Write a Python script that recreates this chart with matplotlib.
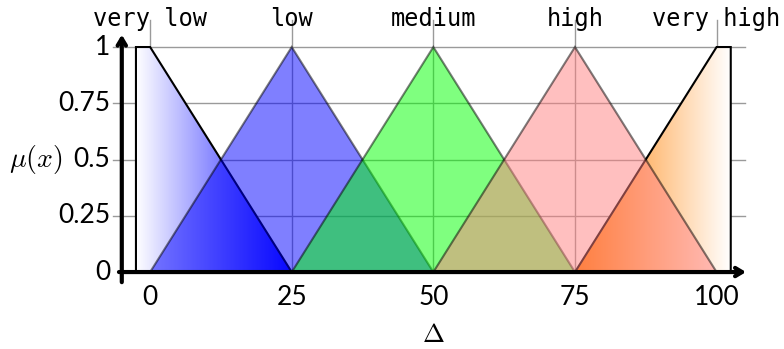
import numpy as np
import matplotlib
matplotlib.use('Agg')
import matplotlib.pyplot as plt
from matplotlib.patches import Polygon
from matplotlib.colors import LinearSegmentedColormap

# fuzzy sets over delta
labels = ['very low', 'low', 'medium', 'high', 'very high']
centers = [0, 25, 50, 75, 100]
tri_colors = ['#0000ff', '#00ff00', '#ff8080']   # low, medium, high
xticks = [0, 25, 50, 75, 100]
yticks = [0, 0.25, 0.5, 0.75, 1]
ytick_labels = ['0', '0.25', '0.5', '0.75', '1']

# shoulder sets (trapezoids)
vlow_x = [-2.5, -2.5, 0, 25]
vlow_y = [0, 1, 1, 0]
vhigh_x = [75, 100, 102.5, 102.5]
vhigh_y = [0, 1, 1, 0]

fig = plt.figure(figsize=(7.84, 3.49), dpi=100)
ax = fig.add_axes([0, 0, 1, 1])
ax.axis('off')

tick_font = 'Lato'
grid_c = '#9a9a9a'

# grid
for y in yticks[1:]:
    ax.plot([-6.5, 105], [y, y], color=grid_c, lw=1.0, zorder=1)
for c in centers[1:-1]:
    ax.plot([c, c], [0, 1.12], color=grid_c, lw=1.0, zorder=1)
for c in [centers[0], centers[-1]]:
    ax.plot([c, c], [1, 1.12], color=grid_c, lw=1.0, zorder=1)

# gradient shoulders
def gradient_poly(xs, ys, c_left, c_right, z):
    poly = Polygon(list(zip(xs, ys)), closed=True, facecolor='none',
                   edgecolor='black', lw=1.5, zorder=z + 0.5)
    ax.add_patch(poly)
    cmap = LinearSegmentedColormap.from_list('g', [c_left, c_right])
    grad = np.linspace(0, 1, 256).reshape(1, -1)
    im = ax.imshow(grad, cmap=cmap, aspect='auto', origin='lower',
                   extent=[min(xs), max(xs), min(ys), max(ys)],
                   interpolation='bilinear', zorder=z)
    clip = Polygon(list(zip(xs, ys)), closed=True, transform=ax.transData)
    im.set_clip_path(clip)

gradient_poly(vlow_x, vlow_y, 'white', '#1010ff', 2)
gradient_poly(vhigh_x, vhigh_y, '#ff8000', 'white', 2)
ax.set_xlim(-26.5, 111.9)
ax.set_ylim(-0.342, 1.209)

# triangles
for c, col in zip(centers[1:-1], tri_colors):
    tri = Polygon([(c - 25, 0), (c, 1), (c + 25, 0)], closed=True,
                  facecolor=col, edgecolor='black', lw=1.5, alpha=0.5, zorder=4)
    ax.add_patch(tri)

# axes with arrows
ax.annotate('', xy=(105.2, 0), xytext=(-5.5, 0),
            arrowprops=dict(arrowstyle='->,head_length=0.5,head_width=0.3',
                            lw=3, color='black', shrinkA=0, shrinkB=0), zorder=6)
ax.annotate('', xy=(-5.0, 1.055), xytext=(-5.0, -0.045),
            arrowprops=dict(arrowstyle='->,head_length=0.5,head_width=0.3',
                            lw=3, color='black', shrinkA=0, shrinkB=0), zorder=6)

# tick labels
for x in xticks:
    ax.text(x, -0.115, str(x), ha='center', va='center', fontsize=19,
            family=tick_font, color='black')
for y, s in zip(yticks, ytick_labels):
    ax.text(-7.0, y, s, ha='right', va='center', fontsize=19,
            family=tick_font, color='black')

ax.text(-15.4, 0.5, r'$\mu(x)$', ha='right', va='center', fontsize=20,
        math_fontfamily='cm')
ax.text(50, -0.28, r'$\Delta$', ha='center', va='center', fontsize=19,
        math_fontfamily='cm')

# set names
for c, s in zip(centers, labels):
    ax.text(c, 1.093, s, ha='center', va='baseline', fontsize=17,
            family='DejaVu Sans Mono')

fig.savefig('out.png', dpi=100)
